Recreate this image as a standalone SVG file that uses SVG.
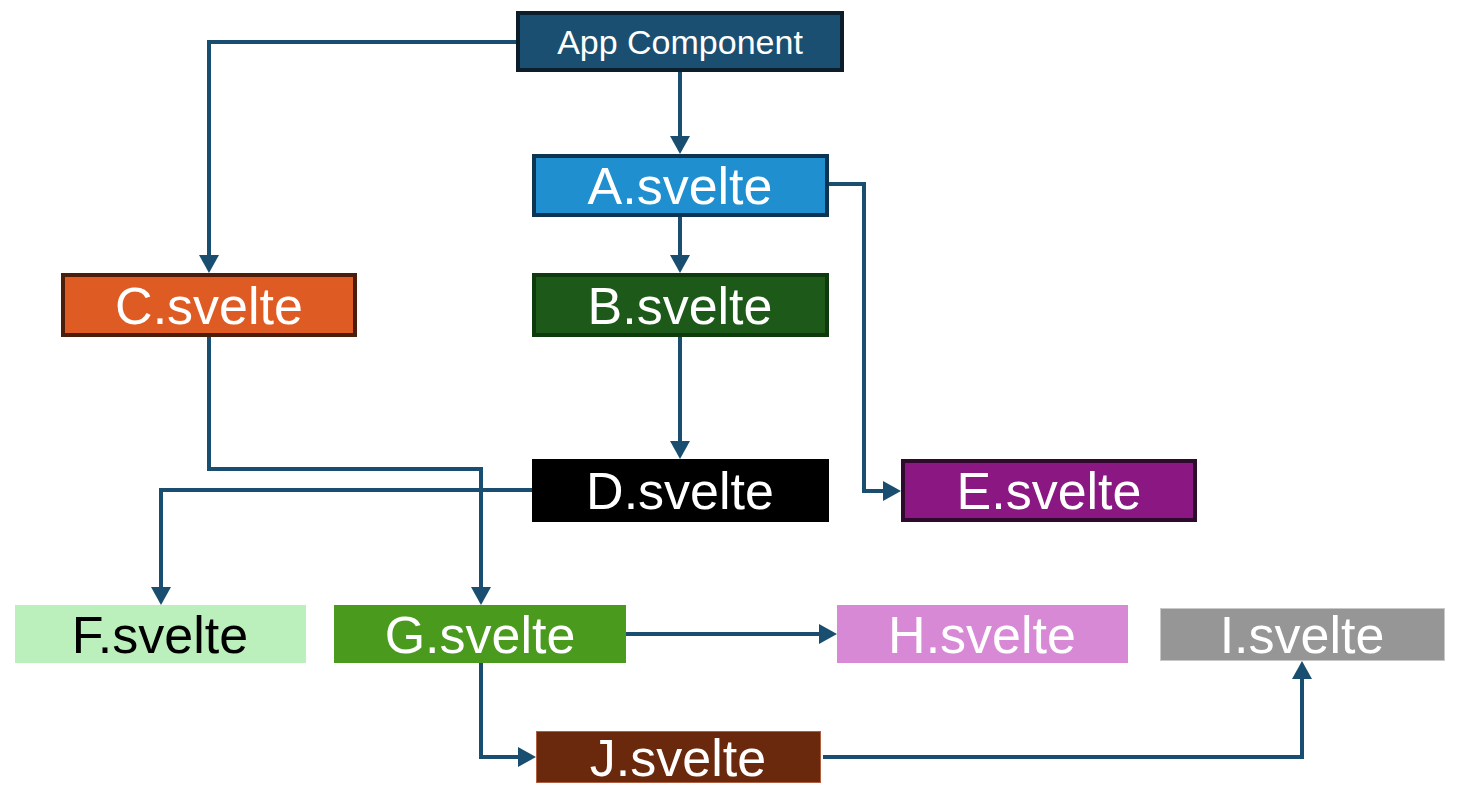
<svg xmlns="http://www.w3.org/2000/svg" width="1476" height="792" viewBox="0 0 1476 792">
<defs>
<marker id="arr" markerUnits="userSpaceOnUse" viewBox="0 0 18 20" markerWidth="18" markerHeight="20" refX="8" refY="10" orient="auto">
<path d="M0,0 L18,10 L0,20 z" fill="#1a4e70"/>
</marker>
<style>
.lbl{font-family:"Liberation Sans",Arial,sans-serif;font-size:52px;fill:#fff;text-anchor:middle}
.conn{fill:none;stroke:#1a4e70;stroke-width:4}
</style>
</defs>
<rect width="1476" height="792" fill="#fff"/>
<g id="connectors">
<path class="conn" d="M518,42 H209 V263" marker-end="url(#arr)"/>
<path class="conn" d="M680,72 V144" marker-end="url(#arr)"/>
<path class="conn" d="M680,217 V263" marker-end="url(#arr)"/>
<path class="conn" d="M829,184 H864 V491 H891" marker-end="url(#arr)"/>
<path class="conn" d="M680,337 V449" marker-end="url(#arr)"/>
<path class="conn" d="M209,337 V469 H481 V595" marker-end="url(#arr)"/>
<path class="conn" d="M532,490 H161 V595" marker-end="url(#arr)"/>
<path class="conn" d="M626,634 H827" marker-end="url(#arr)"/>
<path class="conn" d="M481,663 V757 H526" marker-end="url(#arr)"/>
<path class="conn" d="M823,757 H1302 V671" marker-end="url(#arr)"/>
</g>
<g id="app">
<rect x="518" y="13" width="324" height="57" fill="#1a4f71" stroke="#0c1d2b" stroke-width="4"/>
<text x="680" y="54" class="lbl" style="font-size:34px">App Component</text>
</g>
<g id="a">
<rect x="534" y="156" width="293" height="59" fill="#1f8fcf" stroke="#0d3450" stroke-width="4"/>
<text x="680" y="204" class="lbl">A.svelte</text>
</g>
<g id="b">
<rect x="534" y="275" width="293" height="60" fill="#1d5a1a" stroke="#0f3a0d" stroke-width="4"/>
<text x="680" y="324" class="lbl">B.svelte</text>
</g>
<g id="c">
<rect x="63" y="275" width="292" height="60" fill="#df5b24" stroke="#4a1e0b" stroke-width="4"/>
<text x="209" y="324" class="lbl">C.svelte</text>
</g>
<g id="d">
<rect x="532" y="459" width="297" height="63" fill="#000"/>
<text x="680" y="509" class="lbl">D.svelte</text>
</g>
<g id="e">
<rect x="903" y="461" width="292" height="59" fill="#8a1782" stroke="#2e0a2c" stroke-width="4"/>
<text x="1049" y="509" class="lbl">E.svelte</text>
</g>
<g id="f">
<rect x="15" y="605" width="291" height="58" fill="#bbefbb"/>
<text x="160" y="653" class="lbl" style="fill:#000">F.svelte</text>
</g>
<g id="g">
<rect x="334" y="605" width="292" height="58" fill="#4a9a1d"/>
<text x="480" y="653" class="lbl">G.svelte</text>
</g>
<g id="h">
<rect x="837" y="605" width="291" height="58" fill="#d889d6"/>
<text x="982" y="653" class="lbl">H.svelte</text>
</g>
<g id="i">
<rect x="1160.5" y="608.5" width="284" height="52" fill="#969696" stroke="#c8c8c8" stroke-width="1"/>
<text x="1302" y="653" class="lbl">I.svelte</text>
</g>
<g id="j">
<rect x="536.5" y="731.5" width="284" height="51" fill="#6a280d" stroke="#b06040" stroke-width="1"/>
<text x="678" y="776" class="lbl">J.svelte</text>
</g>
</svg>
